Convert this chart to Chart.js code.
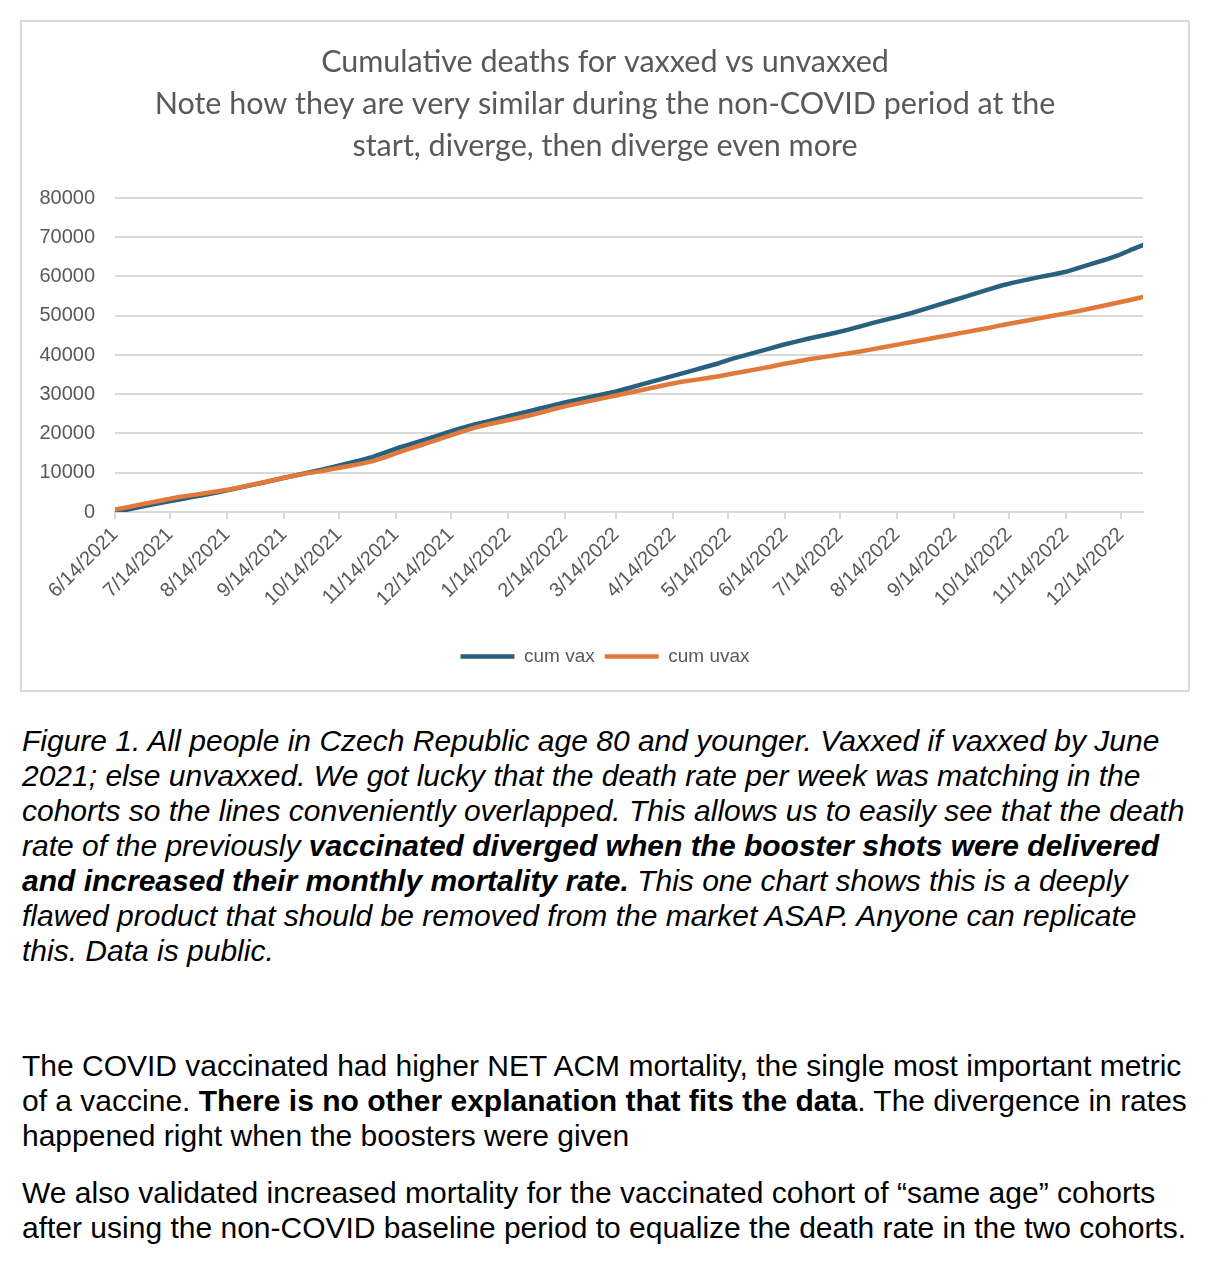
<!DOCTYPE html>
<html>
<head>
<meta charset="utf-8">
<script src="https://cdn.jsdelivr.net/npm/chart.js@4/dist/chart.umd.min.js"></script>
<style>
  html, body { margin: 0; padding: 0; background: #ffffff; }
  body { width: 1210px; height: 1265px; position: relative; overflow: hidden; }
  #box { position: absolute; left: 20px; top: 20px; width: 1170px; height: 672px; box-sizing: border-box; border: 2px solid #d9d9d9; background: #fff; }
  #box canvas { display: block; }
  .txt { position: absolute; left: 22px; font-family: "Liberation Sans", Arial, sans-serif; color: #000; white-space: nowrap; line-height: 35px; font-size: 30px; }
  #cap { top: 723px; font-style: italic; }
  #p1 { top: 1048px; }
  #p2 { top: 1175px; }
</style>
</head>
<body>
<div id="box"><canvas id="c" width="1166" height="668"></canvas></div>

<div id="cap" class="txt">Figure 1. All people in Czech Republic age 80 and younger. Vaxxed if vaxxed by June<br>2021; else unvaxxed. We got lucky that the death rate per week was matching in the<br>cohorts so the lines conveniently overlapped. This allows us to easily see that the death<br>rate of the previously <b>vaccinated diverged when the booster shots were delivered</b><br><b>and increased their monthly mortality rate.</b> This one chart shows this is a deeply<br>flawed product that should be removed from the market ASAP. Anyone can replicate<br>this. Data is public.</div>

<div id="p1" class="txt">The COVID vaccinated had higher NET ACM mortality, the single most important metric<br>of a vaccine. <b>There is no other explanation that fits the data</b>. The divergence in rates<br>happened right when the boosters were given</div>

<div id="p2" class="txt">We also validated increased mortality for the vaccinated cohort of “same age” cohorts<br>after using the non-COVID baseline period to equalize the death rate in the two cohorts.</div>

<script>
// ---- data ----
const weekDates = [
  '6/14/2021','6/21/2021','6/28/2021','7/5/2021','7/12/2021','7/19/2021','7/26/2021','8/2/2021','8/9/2021','8/16/2021',
  '8/23/2021','8/30/2021','9/6/2021','9/13/2021','9/20/2021','9/27/2021','10/4/2021','10/11/2021','10/18/2021','10/25/2021',
  '11/1/2021','11/8/2021','11/15/2021','11/22/2021','11/29/2021','12/6/2021','12/13/2021','12/20/2021','12/27/2021','1/3/2022',
  '1/10/2022','1/17/2022','1/24/2022','1/31/2022','2/7/2022','2/14/2022','2/21/2022','2/28/2022','3/7/2022','3/14/2022',
  '3/21/2022','3/28/2022','4/4/2022','4/11/2022','4/18/2022','4/25/2022','5/2/2022','5/9/2022','5/16/2022','5/23/2022',
  '5/30/2022','6/6/2022','6/13/2022','6/20/2022','6/27/2022','7/4/2022','7/11/2022','7/18/2022','7/25/2022','8/1/2022',
  '8/8/2022','8/15/2022','8/22/2022','8/29/2022','9/5/2022','9/12/2022','9/19/2022','9/26/2022','10/3/2022','10/10/2022',
  '10/17/2022','10/24/2022','10/31/2022','11/7/2022','11/14/2022','11/21/2022','11/28/2022','12/5/2022','12/12/2022','12/19/2022',
  '12/26/2022'
];
const cumVax = [
  0, 650, 1300, 1950, 2600, 3200, 3800, 4400, 5000, 5700,
  6400, 7100, 7800, 8600, 9300, 10000, 10700, 11500, 12300, 13100,
  14000, 15100, 16300, 17300, 18300, 19300, 20400, 21400, 22300, 23100,
  23900, 24700, 25500, 26300, 27100, 27900, 28600, 29300, 30000, 30700,
  31600, 32500, 33400, 34300, 35200, 36100, 37000, 37900, 39000, 39900,
  40800, 41700, 42600, 43400, 44200, 44900, 45600, 46400, 47300, 48200,
  49000, 49800, 50700, 51700, 52700, 53700, 54700, 55700, 56700, 57700,
  58500, 59200, 59900, 60500, 61200, 62200, 63200, 64200, 65300, 66700,
  68000
];
const cumUvax = [
  600, 1250, 1900, 2550, 3200, 3800, 4300, 4800, 5300, 5800,
  6500, 7200, 7900, 8600, 9300, 9900, 10400, 11000, 11600, 12200,
  12900, 13900, 15100, 16200, 17200, 18300, 19400, 20500, 21500, 22300,
  23000, 23700, 24400, 25200, 26100, 26900, 27600, 28300, 29000, 29700,
  30400, 31100, 31800, 32500, 33100, 33600, 34100, 34600, 35200, 35800,
  36400, 37000, 37700, 38300, 38900, 39400, 39900, 40400, 40900, 41500,
  42100, 42700, 43300, 43900, 44500, 45100, 45700, 46300, 46900, 47600,
  48200, 48800, 49400, 50000, 50600, 51200, 51900, 52600, 53300, 54000,
  54800
];
const tickLabels = [
  '6/14/2021','7/14/2021','8/14/2021','9/14/2021','10/14/2021','11/14/2021','12/14/2021',
  '1/14/2022','2/14/2022','3/14/2022','4/14/2022','5/14/2022','6/14/2022','7/14/2022',
  '8/14/2022','9/14/2022','10/14/2022','11/14/2022','12/14/2022'
];
const seriesNames = ['cum vax', 'cum uvax'];
const titleLines = [
  'Cumulative deaths for vaxxed vs unvaxxed',
  'Note how they are very similar during the non-COVID period at the',
  'start, diverge, then diverge even more'
];

// ---- helpers ----
function dayOf(s) {
  const [m, d, y] = s.split('/').map(Number);
  return Math.round((Date.UTC(y, m - 1, d) - Date.UTC(2021, 5, 14)) / 864e5);
}
const tickDays = tickLabels.map(dayOf);
const lastDay = dayOf(weekDates[weekDates.length - 1]);
const toPts = arr => arr.map((v, i) => ({ x: dayOf(weekDates[i]), y: v }));

const GREY = '#595959';
const GRID = '#d9d9d9';

// center title and legend on the full chart width (as in the Excel original)
const recenter = {
  id: 'recenter',
  afterLayout(chart) {
    [chart.titleBlock, chart.legend].forEach(b => {
      if (b) { b.left = 0; b.right = chart.width; b.width = chart.width; }
    });
  }
};

new Chart(document.getElementById('c'), {
  type: 'line',
  plugins: [recenter],
  data: {
    datasets: [
      { label: seriesNames[0], data: toPts(cumVax), borderColor: '#28607f', backgroundColor: '#28607f',
        borderWidth: 4.5, pointRadius: 0, tension: 0, borderCapStyle: 'round', borderJoinStyle: 'round', order: 1 },
      { label: seriesNames[1], data: toPts(cumUvax), borderColor: '#e0793a', backgroundColor: '#e0793a',
        borderWidth: 4.5, pointRadius: 0, tension: 0, borderCapStyle: 'round', borderJoinStyle: 'round', order: 0 }
    ]
  },
  options: {
    responsive: false,
    animation: false,
    events: [],
    layout: { padding: { left: 0, right: 45, top: 0, bottom: 14 } },
    plugins: {
      tooltip: { enabled: false },
      title: {
        display: true,
        text: titleLines,
        color: GREY,
        font: { family: 'Lato, "Open Sans", sans-serif', size: 30.5, weight: 'normal', lineHeight: 1.377 },
        padding: { top: 19, bottom: 31 }
      },
      legend: {
        position: 'bottom',
        labels: {
          sort: (a, b) => a.datasetIndex - b.datasetIndex,
          usePointStyle: true,
          pointStyle: 'line',
          pointStyleWidth: 54,
          boxHeight: 6,
          color: GREY,
          font: { family: '"Liberation Sans", Arial, sans-serif', size: 19 },
          padding: 10
        }
      }
    },
    scales: {
      x: {
        type: 'linear',
        min: 0,
        max: lastDay,
        afterBuildTicks: s => { s.ticks = tickDays.map(v => ({ value: v })); },
        afterFit: s => { s.height = 125; },
        ticks: {
          autoSkip: false,
          minRotation: 45,
          maxRotation: 45,
          padding: 4,
          color: GREY,
          font: { family: '"Liberation Sans", Arial, sans-serif', size: 20 },
          callback: (v, i) => tickLabels[i]
        },
        grid: { drawOnChartArea: false, drawTicks: true, tickLength: 7, color: GRID, lineWidth: 2 },
        border: { display: true, color: GRID, width: 2 }
      },
      y: {
        min: 0,
        max: 80000,
        afterFit: s => { s.width = 93; },
        ticks: {
          stepSize: 10000,
          padding: 20,
          color: GREY,
          font: { family: '"Liberation Sans", Arial, sans-serif', size: 20 },
          callback: v => String(v)
        },
        grid: { color: GRID, lineWidth: 2, drawTicks: false },
        border: { display: false }
      }
    }
  }
});
</script>
</body>
</html>
